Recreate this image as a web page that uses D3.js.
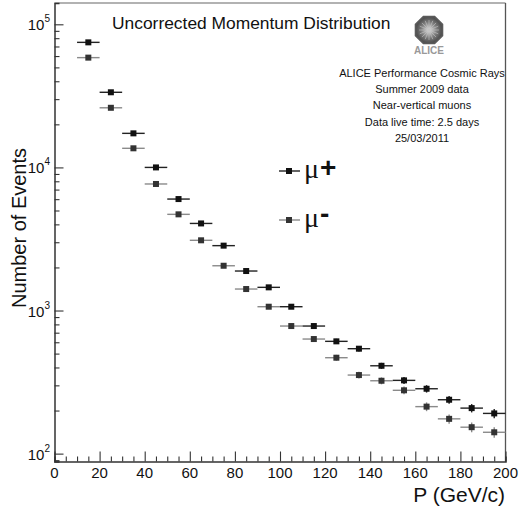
<!DOCTYPE html>
<html>
<head>
<meta charset="utf-8">
<script src="https://cdn.jsdelivr.net/npm/d3@7"></script>
<style>
  html, body { margin: 0; padding: 0; background: #fff; }
  svg { display: block; font-family: "Liberation Sans", Arial, sans-serif; }
</style>
</head>
<body>
<svg id="chart" width="519" height="516"></svg>
<script>
// ---- data ----
const momentumBins = [15, 25, 35, 45, 55, 65, 75, 85, 95, 105, 115, 125, 135, 145, 155, 165, 175, 185, 195];
const binWidth = 10;
const muPlusCounts  = [74800, 33500, 17300, 10000, 6010, 4060, 2840, 1888, 1452, 1063, 779, 609, 541, 411, 325, 284, 238, 208, 191];
const muPlusErrors  = [273, 183, 132, 100, 78, 64, 53, 43, 38, 33, 28, 25, 23, 20, 18, 17, 15, 14, 14];
const muMinusCounts = [58500, 26100, 13600, 7660, 4700, 3095, 2055, 1413, 1063, 779, 632, 468, 354, 323, 277, 213, 175, 153, 141];
const muMinusErrors = [242, 162, 117, 88, 69, 56, 45, 38, 33, 28, 25, 22, 19, 18, 17, 15, 13, 12, 12];
const xTickValues = [0, 20, 40, 60, 80, 100, 120, 140, 160, 180, 200];
const yTickExponents = [2, 3, 4, 5];
const titleText = "Uncorrected Momentum Distribution";
const infoLines = ["ALICE Performance Cosmic Rays", "Summer 2009 data", "Near-vertical muons", "Data live time: 2.5 days", "25/03/2011"];
const xTitle = "P (GeV/c)";
const yTitle = "Number of Events";

// ---- layout ----
const svg = d3.select("#chart");
const pL = 54.5, pR = 505.5, pT = 3, pB = 461.5;
const x = d3.scaleLinear().domain([0, 200]).range([pL, pR]);
const y = d3.scaleLog().domain([88.1, 140900]).range([pB, pT]);

// frame
svg.append("line").attr("x1", pL).attr("x2", pR).attr("y1", pT).attr("y2", pT)
  .attr("stroke", "#999").attr("stroke-width", 1.3);
svg.append("line").attr("x1", pR).attr("x2", pR).attr("y1", pT).attr("y2", pB)
  .attr("stroke", "#555").attr("stroke-width", 1.3);

// x axis
const xMinor = d3.range(0, 201, 5);
const xAxisG = svg.append("g").attr("transform", `translate(0,${pB})`);
xAxisG.call(d3.axisBottom(x).tickValues(xMinor).tickSize(-5).tickFormat(""));
xAxisG.selectAll(".tick").filter(d => d % 20 === 0).select("line").attr("y2", -10);
xAxisG.select(".domain").attr("stroke", "#333").attr("stroke-width", 1.5);
xAxisG.selectAll(".tick line").attr("stroke", "#333").attr("stroke-width", 1.1);
svg.append("g").selectAll("text").data(xTickValues).join("text")
  .attr("x", d => x(d)).attr("y", 477.5).attr("text-anchor", "middle")
  .attr("font-size", 15).attr("fill", "#111").text(d => d);

// y axis
const yMinor = [];
for (let e = 1; e <= 5; e++) for (let m = 1; m <= 9; m++) {
  const v = m * Math.pow(10, e);
  if (v >= 88.1 && v <= 140900) yMinor.push(v);
}
const yAxisG = svg.append("g").attr("transform", `translate(${pL},0)`);
yAxisG.call(d3.axisLeft(y).tickValues(yMinor).tickSize(-5).tickFormat(""));
yAxisG.selectAll(".tick").filter(d => Math.abs(Math.log10(d) - Math.round(Math.log10(d))) < 1e-9)
  .select("line").attr("x2", 9);
yAxisG.select(".domain").attr("stroke", "#333").attr("stroke-width", 1.5);
yAxisG.selectAll(".tick line").attr("stroke", "#333").attr("stroke-width", 1.1);
const yl = svg.append("g").selectAll("text").data(yTickExponents).join("text")
  .attr("x", 50).attr("y", d => y(Math.pow(10, d)) + 6).attr("text-anchor", "end")
  .attr("font-size", 15).attr("fill", "#111");
yl.append("tspan").text("10");
yl.append("tspan").attr("font-size", 10).attr("dy", -8).text(d => d);

// axis titles
svg.append("text").attr("x", 505).attr("y", 502).attr("text-anchor", "end")
  .attr("font-size", 21).attr("fill", "#111").text(xTitle);
svg.append("text").attr("transform", "translate(26,228) rotate(-90)").attr("text-anchor", "middle")
  .attr("font-size", 20).attr("fill", "#111").text(yTitle);

// title
svg.append("text").attr("x", 112).attr("y", 29).attr("font-size", 17.4).attr("fill", "#111").text(titleText);

// logo
const lc = [429, 30], lr = 14.5;
const defs = svg.append("defs");
const rg = defs.append("radialGradient").attr("id", "lg");
rg.append("stop").attr("offset", "0%").attr("stop-color", "#e0e0e0");
rg.append("stop").attr("offset", "60%").attr("stop-color", "#7a7a7a");
rg.append("stop").attr("offset", "100%").attr("stop-color", "#4a4a4a");
const oct = d3.range(8).map(i => {
  const a = Math.PI / 8 + i * Math.PI / 4;
  return [lc[0] + lr * Math.cos(a), lc[1] + lr * Math.sin(a)];
});
svg.append("polygon").attr("points", oct.map(p => p.join(",")).join(" "))
  .attr("fill", "url(#lg)").attr("stroke", "#5a5a5a").attr("stroke-width", 1.8);
svg.append("g").selectAll("line").data(d3.range(16)).join("line")
  .attr("x1", lc[0]).attr("y1", lc[1])
  .attr("x2", i => lc[0] + 10 * Math.cos(i * Math.PI / 8))
  .attr("y2", i => lc[1] + 10 * Math.sin(i * Math.PI / 8))
  .attr("stroke", "#c4c4c4").attr("stroke-width", 0.6);
svg.append("text").attr("x", lc[0]).attr("y", 54).attr("text-anchor", "middle")
  .attr("font-size", 10).attr("font-weight", "bold").attr("fill", "#999").text("ALICE");

// info text
svg.append("g").selectAll("text").data(infoLines).join("text")
  .attr("x", 422).attr("y", (d, i) => 77 + i * 16.2).attr("text-anchor", "middle")
  .attr("font-size", 11).attr("fill", "#111").text(d => d);

// data series
function drawSeries(counts, errors, markColor, barColor) {
  const g = svg.append("g");
  const pts = momentumBins.map((p, i) => ({ p, v: counts[i], e: errors[i] }));
  g.selectAll(".hx").data(pts).join("line")
    .attr("x1", d => x(d.p - binWidth / 2)).attr("x2", d => x(d.p + binWidth / 2))
    .attr("y1", d => y(d.v)).attr("y2", d => y(d.v))
    .attr("stroke", barColor).attr("stroke-width", 1.4);
  g.selectAll(".vy").data(pts).join("line")
    .attr("x1", d => x(d.p)).attr("x2", d => x(d.p))
    .attr("y1", d => y(d.v - d.e)).attr("y2", d => y(d.v + d.e))
    .attr("stroke", barColor).attr("stroke-width", 1.4);
  g.selectAll("rect").data(pts).join("rect")
    .attr("x", d => x(d.p) - 3).attr("y", d => y(d.v) - 3)
    .attr("width", 6).attr("height", 6).attr("fill", markColor);
}
drawSeries(muMinusCounts, muMinusErrors, "#333", "#8a8a8a");
drawSeries(muPlusCounts, muPlusErrors, "#111", "#222");

// legend
const legendItems = [
  { label: "+", y: 171, mark: "#111", bar: "#222", dy: -1 },
  { label: "-", y: 220, mark: "#333", bar: "#8a8a8a", dy: -4 }
];
const lgG = svg.append("g").selectAll("g").data(legendItems).join("g");
lgG.append("line").attr("x1", 279).attr("x2", 300).attr("y1", d => d.y).attr("y2", d => d.y)
  .attr("stroke", d => d.bar).attr("stroke-width", 1.4);
lgG.append("rect").attr("x", 286).attr("y", d => d.y - 3).attr("width", 6).attr("height", 6)
  .attr("fill", d => d.mark);
const lt = lgG.append("text").attr("x", 304).attr("y", d => d.y + 7).attr("fill", "#111");
lt.append("tspan").attr("font-family", "Liberation Serif, serif").attr("font-size", 28).text("\u03bc");
lt.append("tspan").attr("font-size", 28).attr("font-weight", "bold").attr("dx", 1).attr("dy", d => d.dy).text(d => d.label);
</script>
</body>
</html>
